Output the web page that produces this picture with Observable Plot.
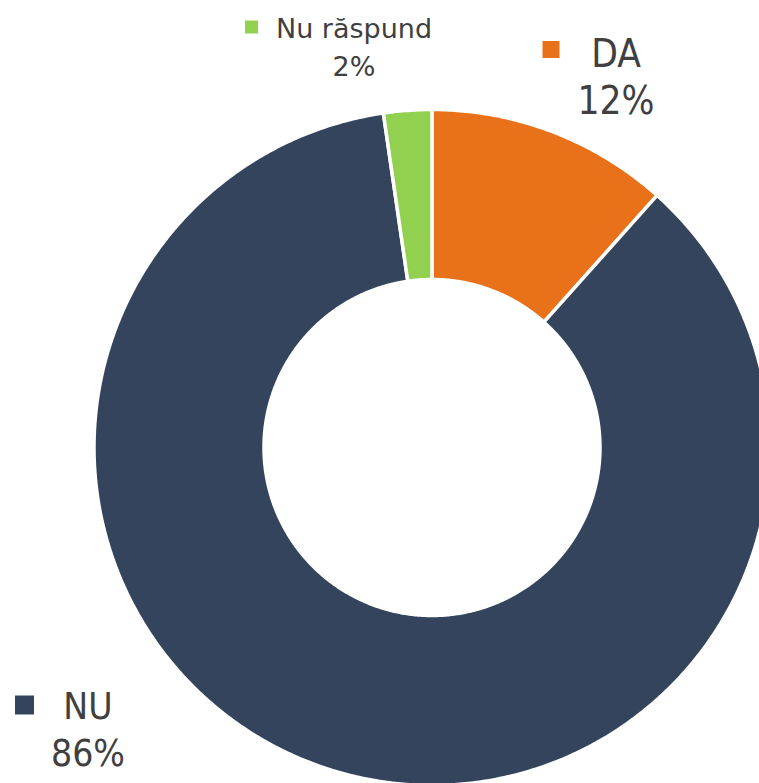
<!DOCTYPE html>
<html><head><meta charset="utf-8">
<script src="https://cdn.jsdelivr.net/npm/d3@7"></script>
<script src="https://cdn.jsdelivr.net/npm/@observablehq/plot@0.6"></script>
<style>html,body{margin:0;padding:0;background:#fff;overflow:hidden}</style>
</head><body><div id="chart"></div>
<script>
// Data
const categories = ["DA", "NU", "Nu răspund"];
const values = [11.6, 86.1, 2.3];
const percentLabels = ["12%", "86%", "2%"];
const colors = ["#E8711A", "#33445C", "#92D050"];

// Layout (pixel units relative to donut centre, y up)
const outerR = 338, innerR = 168;
const labelLayout = [
  {x: 184, y: 334, size: 38.5, lh: 1.22, font: "'DejaVu Sans Condensed', sans-serif", mx: 119, my: 398, ms: 17},
  {x: -344, y: -318, size: 37, lh: 1.27, font: "'DejaVu Sans Condensed', sans-serif", mx: -407.5, my: -257.5, ms: 19},
  {x: -78, y: 372, size: 27, lh: 1.4, font: "'DejaVu Sans', sans-serif", mx: -180.5, my: 420.5, ms: 13}
];

const arcs = d3.pie().sort(null).value(d => d)(values);
const slices = [];
arcs.forEach((a, i) => {
  const n = Math.max(8, Math.ceil((a.endAngle - a.startAngle) * 120));
  for (let k = 0; k <= n; k++) {
    const t = a.startAngle + (a.endAngle - a.startAngle) * k / n;
    slices.push({key: categories[i], x: outerR * Math.sin(t), y: outerR * Math.cos(t)});
  }
  for (let k = n; k >= 0; k--) {
    const t = a.startAngle + (a.endAngle - a.startAngle) * k / n;
    slices.push({key: categories[i], x: innerR * Math.sin(t), y: innerR * Math.cos(t)});
  }
});

const labelData = categories.map((c, i) => ({key: c, text: c + "\n" + percentLabels[i], ...labelLayout[i]}));

const chart = Plot.plot({
  width: 759, height: 783, margin: 0,
  x: {domain: [-431.5, 327.5], axis: null},
  y: {domain: [-336, 447], axis: null},
  color: {domain: categories, range: colors},
  style: {fontFamily: "'DejaVu Sans Condensed', 'DejaVu Sans', sans-serif", background: "#fff"},
  marks: [
    Plot.line(slices, {x: "x", y: "y", z: "key", fill: "key", stroke: "white", strokeWidth: 3.5, curve: "linear-closed"}),
    ...labelData.map(d => Plot.text([d], {x: "x", y: "y", text: "text", fontSize: d.size, fontFamily: d.font, lineHeight: d.lh, lineAnchor: "bottom", textAnchor: "middle", fill: "#404040"})),
    ...labelData.map(d => Plot.dot([d], {x: "mx", y: "my", symbol: "square", r: d.ms / Math.sqrt(Math.PI), fill: "key", stroke: "none"}))
  ]
});
document.getElementById("chart").appendChild(chart);
</script>
</body></html>
